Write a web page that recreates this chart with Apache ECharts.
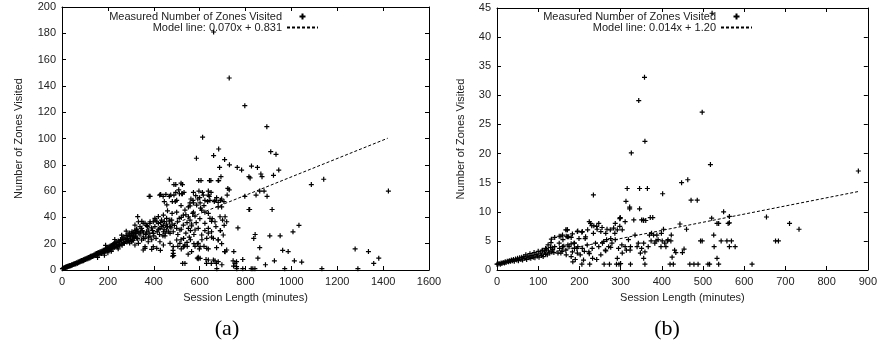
<!DOCTYPE html>
<html>
<head>
<meta charset="utf-8">
<script src="https://cdn.jsdelivr.net/npm/echarts@6/dist/echarts.min.js"></script>
<style>
  html, body { margin: 0; padding: 0; background: #fff; }
  #main { width: 880px; height: 345px; }
</style>
</head>
<body>
<div id="main"></div>
<script>
// (a) session length (minutes) vs zones visited
const pointsA = [
  [2,1],[4,1.1],[5,1.3],[7,1.4],[8,1.2],[10,1.5],[12,1.8],[14,1.7],[15,2],[17,2.1],[19,2.2],[21,2.4],[23,2.3],[25,2.8],[27,2.6],
  [30,3],[32,3.2],[34,3],[36,3.5],[38,3.3],[41,3.7],[43,4],[45,3.8],[48,4.2],[50,4.5],[52,4.1],[55,4.8],[58,4.9],[60,4.6],
  [62,5.3],[65,5.5],[68,5.1],[70,6],[73,5.7],[75,6.4],[78,6],[80,6.8],[83,6.4],[85,7.2],[88,6.8],[90,7.5],[93,7.1],[95,8],
  [98,7.6],[100,8.3],[103,7.9],[105,8.8],[108,8.3],[110,9.1],[113,8.6],[115,9.5],[118,9],[120,9.9],[123,9.4],[125,10.4],
  [128,9.8],[130,10.7],[133,10.2],[135,11.1],[138,10.6],[140,11.6],[143,11],[145,12.1],[148,11.4],[150,12.5],[152,11.3],
  [155,12.9],[158,12.1],[160,13.3],[162,12],[165,13.6],[168,12.8],[170,14.1],[172,12.6],[175,14.4],[178,13.4],[180,15.1],
  [182,13.6],[185,15.3],[188,14.2],[190,16.1],[192,14.3],[195,16.4],[198,14.8],[200,17.1],[202,15],[205,17.6],[208,15.6],
  [210,18.2],[212,16.2],[215,18.7],[218,16.8],[220,19.2],[222,16],[225,19.7],[228,17.3],[230,20.3],[232,17.8],[235,21.2],
  [238,18.3],[240,20.6],[242,17.6],[245,22.1],[248,19.3],[250,21.2],[252,18.6],[255,23.1],[258,19.8],[260,22.2],[262,18.9],
  [265,24.2],[268,20.8],[270,25.1],[272,20.3],[275,23.2],[278,21.8],[280,26.2],[283,21.3],[285,24.1],[288,27.2],[290,22.6],
  [293,25.6],[295,28.1],[298,23.4],[300,26.2],[303,21.8],[305,29.1],[308,24.3],[310,27.2],[313,28.6],[315,24.8],[318,30.2],
  [320,25.8],[323,27.6],[325,31.1],[328,29.2],[330,23.8],[335,28.3],
  [155,9.6],[185,11.2],[200,13.1],[215,14.2],[245,16.1],[190,18.8],[230,23.2],[260,26.5],[280,29.5],[295,20.5],[310,22.5],
  [311,25.3],[326,24.1],[304,21.5],[318,19],[333,20.3],[347,22.8],[340,26.6],[369,29.1],[362,24.1],[384,25.3],[376,21.5],
  [413,36.7],[434,38],[456,39.3],[478,38],[405,39.3],[384,36.7],[442,41.8],[333,36.7],[318,34.2],[347,31.7],[326,30.4],
  [304,27.9],[369,34],[354,35.5],[340,33],[376,30.4],[398,27.9],[427,31.7],[442,29.1],[456,30.4],[471,27.9],[449,25.9],
  [485,29.1],[500,31.7],[514,30.4],[529,34.2],[551,31.7],[565,33.5],[580,30.4],[594,31.7],[623,35.5],[645,39.3],[667,36.7],
  [689,40.5],[711,40.5],[718,36.7],[638,31.7],[652,29.1],[609,26.6],[631,24.1],[660,24.1],[681,22.8],[703,26.6],[594,20.3],
  [602,17.7],[631,16.5],[500,22.8],[514,20.3],[529,17.7],[536,19],[485,17.7],[471,20.3],[442,19],[427,21.5],[413,16.5],
  [398,17.7],[362,17.7],[354,15.2],[485,12.7],[482,10.6],[536,5],[594,9.7],[602,8.9],[638,7.6],[660,7.6],[681,6.3],
  [711,13.9],[718,15.2],[761,2.5],[761,6.3],[468,36.7],[471,33],[442,34],[420,35.5],[398,36.7],[536,45.6],[529,41.8],
  [551,40.5],[511,39.3],[503,36.7],[558,48.7],[587,49.4],[609,45.6],[573,44],[573,51],[592,54],[602,51],[619,49],[573,59],
  [583,56.5],[612,59],[638,57],[650,59],[645,53],[667,53],[681,51.5],[696,54],[729,61],[446,52],[500,53],[481,52],
  [430,57.5],[453,57.5],[474,57],[496,59],[525,58],[532,59],[384,56],[468,69],[488,65],[519,66],[496,65],[525,65],
  [606,68],[649,68],[681,68],[693,71],[687,78],[586,85],[661,87],[709,84],[730,80],[729,146],[797,125],[893,109],[613,101],
  [683,92],[910,90],[933,88],[826,79],[852,78],[764,78],[783,76],[945,76],[815,71],[820,70],[867,73],[872,71],[922,72],
  [1087,65],[1141,69],[1423,60],[862,60],[894,56],[846,57],[881,60],[797,56],[815,46],[818,46],[916,46],[767,32],[842,27],
  [836,24],[862,17],[906,26],[951,26],[1007,29],[1033,34],[962,15],[986,14],[1013,7],[926,7],[1045,6],[1278,16],[1336,14],
  [1381,9],[1359,5],[1133,1],[1290,1],[971,1],[854,9],[887,4],[746,7],[754,5],[748,3],[762,1],[788,8],[788,1],[825,1],
  [832,1],[841,1],[709,14],[749,14],[590,9],[594,8.5],[628,8],[630,5],[651,5],[673,5],[697,4],[667,7],[526,5],[675,1],
  [330,40.6],[348,37],[362,35.5],[383,35.5],[406,38],[420,40.6],[355,28],[377,25],[391,23],[362,16.5],[391,15.7],[446,36.8],
  [457,49.5],[570,43],[580,41],[601,39],[558,38],[565,35],[652,37],[671,33],[690,30],[623,30],[638,28],[652,25],[691,30],
  [707,34],[700,38],[655,39],[610,23],[590,20],[619,18],[638,16],[580,18],[599,16],[681,23],[696,20],[674,17],[519,23],
  [533,18],[546,18],[484,15],[487,11],[429,15],[604,47],[623,44],[638,43],[664,52],[681,48],[696,48],[720,57],[723,62],
  [674,55],[691,53],[706,52],[600,55],[623,53],[635,52],[642,56],[596,68],[597,60],[616,57],[638,60],[643,68],[683,68],
  [509,61],[512,58],[522,58],[494,52],[519,49],[551,48],[558,51],[562,54],[571,53],[380,56],[426,57],[441,56],[468,56],
  [488,57],[395,30],[405,33],[415,29],[425,27],[435,33],[445,31],[455,35],[465,29],[475,32],[410,24],[420,31],[440,26],
  [460,33],[470,38],[480,35],[390,32],[400,26],[430,36],[450,28],[490,34],[505,27],[520,31],[540,28],[555,25],[545,36],
  [560,30],[575,27],[585,36],[520,40],[540,42],[500,44],[480,43],[460,45],[350,30],[365,27],[372,33],[342,29],[355,24],
  [380,28],[505,18],[520,16],[545,21],[560,23],[575,20],[565,14],[550,12],[530,24],[661,181]
];
const modelA = [[0, 0.831], [1420, 100.2]];

// (b) session length (minutes) vs zones visited
const pointsB = [
  [0,1],[2,1],[5,1.1],[8,1],[10,1.2],[12,1.1],[15,1.3],[18,1.2],[20,1.4],[22,1.3],[25,1.5],[28,1.4],[30,1.6],[33,1.5],
  [35,1.7],[38,1.6],[40,1.8],[42,1.5],[45,1.9],[48,1.7],[50,2],[52,1.6],[55,2.1],[58,1.8],[60,2.2],[62,1.7],[65,2.3],
  [68,2],[70,2.6],[72,1.8],[75,2.4],[78,2.1],[80,2.8],[82,2],[85,2.5],[88,2.2],[90,3],[92,2.1],[95,2.7],[98,2.4],[100,3.2],
  [102,2.2],[105,2.9],[108,2.5],[110,3.4],[112,2.3],[115,3.1],[118,2.7],[120,3.6],[122,2.6],[125,3.3],[128,2.9],[130,3.9],
  [133,3.1],[135,3.5],
  [522,44.1],[358,33.1],[344,29.1],[498,27.1],[359,22.1],[326,20.1],[518,18.1],[877,17],[448,15],[463,15.5],[316,14],
  [346,14],[365,14],[234,12.9],[402,13.1],[313,11.8],[322,10.8],[322,10.5],[346,10.5],[471,12],[486,12],[550,10],[521,8.9],
  [564,9.2],[654,9.1],[710,8],[733,7],[676,5],[683,5],[299,9],[298,8.8],[332,8.6],[351,8.6],[356,8.5],[372,9],[378,9],
  [444,7.9],[460,7],[404,7],[526,6],[538,8],[534,8],[564,8.1],[561,8],[494,5],[498,5],[544,5],[558,5],[569,5],[564,4],
  [578,4],[527,4],[534,2],[538,1],[512,1],[516,1],[619,1],[468,1],[478,1],[488,1],[420,1],[428,1],[359,1],[324,1],[296,1],
  [290,1],[273,1],[260,1],[225,1],[206,1],[450,3],[454,3.6],[425,2.2],[434,3],[410,4],[414,5],[422,5],[398,4],[401,5],
  [386,5],[374,5],[388,6],[380,6],[370,6],[356,4.6],[340,4],[348,2.9],[356,2],[324,4],[314,3.4],[304,2.9],[292,2],[300,1.1],
  [286,6.3],[292,6.9],[298,7.5],[304,6.9],[276,5.4],[266,5.2],[256,4.6],[276,3.9],[264,3.3],[252,2.6],[242,1.8],[232,2],
  [224,2.8],[212,3.2],[202,2.6],[220,6.9],[234,6.3],[242,7.5],[252,6.6],[264,6.3],[224,8.3],[230,7.6],[196,6.7],[206,6.5],
  [214,5.4],[170,6.9],[168,5.8],[160,5.2],[180,5.6],[188,4.6],[196,4],[151,5.8],[140,5.6],[132,5.3],[140,4],[152,3.7],
  [162,4.1],[172,4.3],[180,4.5],[188,3.7],[194,3.7],[124,4.3],[118,3.7],[110,3.3],[138,3],[148,2.9],[158,3.2],[168,2.6],
  [180,2.3],[190,1.8],[184,1.4],[210,1.7],[134,3.8],[131,4.7],[155,5.8],[171,6.9],[174,5.7],
  [299,8.9],[311,8.3],[355,8.6],[361,8.5],[227,8],[235,7.6],[243,7],[247,8],[255,7.3],[267,7],[275,6.9],[283,7.2],[287,8],
  [167,6.9],[159,6],[171,5.7],[183,6.2],[195,6.6],[207,6.6],[215,5.7],[199,5.4],[151,4.6],[159,4],[167,3.4],[155,2.9],
  [175,4],[187,4.6],[183,3.1],[195,2.9],[207,3.7],[219,4.3],[223,3.1],[231,3.7],[239,4.6],[247,4],[259,4.9],[263,3.4],
  [271,4],[279,4.6],[287,5.2],[295,3.7],[303,4.3],[311,4],[319,5.2],[323,3.4],[335,6],[343,4.6],[351,3.7],[359,3.1],
  [367,4],[375,6.3],[383,4.6],[391,5.2],[399,6.3],[407,4.6],[415,5.2],[423,6],[431,3.4]
];
const modelB = [[0, 1.2], [880, 13.52]];

const xTicksA = [0, 200, 400, 600, 800, 1000, 1200, 1400, 1600];
const yTicksA = [0, 20, 40, 60, 80, 100, 120, 140, 160, 180, 200];
const xTicksB = [0, 100, 200, 300, 400, 500, 600, 700, 800, 900];
const yTicksB = [0, 5, 10, 15, 20, 25, 30, 35, 40, 45];

const measuredName = 'Measured Number of Zones Visited';
const modelNameA = 'Model line: 0.070x + 0.831';
const modelNameB = 'Model line: 0.014x + 1.20';
const xTitle = 'Session Length (minutes)';
const yTitle = 'Number of Zones Visited';
const captions = ['(a)', '(b)'];

const font = '"Liberation Sans", Arial, Helvetica, sans-serif';
const ink = '#222';
const plus = 'path://M0,5L10,5M5,0L5,10';
const clear = 'rgba(0,0,0,0)';

function axis(gridIndex, ticks, position, labels, extra) {
  return Object.assign({
    type: 'value',
    gridIndex: gridIndex,
    position: position,
    min: ticks[0],
    max: ticks[ticks.length - 1],
    interval: ticks[1] - ticks[0],
    splitLine: { show: false },
    axisLine: { show: true, onZero: false, lineStyle: { color: '#000', width: 1 } },
    axisTick: { show: true, inside: true, length: 4, lineStyle: { color: '#000' } },
    axisLabel: {
      show: labels, color: ink, fontFamily: font, fontSize: 11, margin: 6,
      formatter: function (v) { return String(v); }
    },
    nameTextStyle: { color: ink, fontFamily: font, fontSize: 11 }
  }, extra || {});
}

function legend(names, right) {
  return {
    data: [
      { name: names[0], icon: plus },
      { name: names[1], itemStyle: { color: clear, borderColor: clear, borderWidth: 0 } }
    ],
    orient: 'vertical',
    align: 'right',
    right: right,
    top: 11,
    padding: 0,
    itemGap: 0,
    itemWidth: 31,
    itemHeight: 6,
    selectedMode: false,
    textStyle: { color: ink, fontFamily: font, fontSize: 11, lineHeight: 11 }
  };
}

function scatter(name, data, xi, yi) {
  return {
    type: 'scatter', name: name, data: data,
    xAxisIndex: xi, yAxisIndex: yi,
    symbol: plus, symbolSize: 5, symbolKeepAspect: true,
    itemStyle: { color: '#000', borderColor: '#000', borderWidth: 1.2, opacity: 1 },
    silent: true
  };
}

function model(name, data, xi, yi) {
  return {
    type: 'line', name: name, data: data,
    xAxisIndex: xi, yAxisIndex: yi,
    symbol: 'none',
    lineStyle: { color: '#000', width: 1, type: [3, 2] },
    itemStyle: { color: '#000' },
    silent: true, z: 3
  };
}

const chart = echarts.init(document.getElementById('main'), null, { renderer: 'canvas' });
chart.setOption({
  animation: false,
  backgroundColor: '#fff',
  grid: [
    { left: 62, top: 7, width: 367, height: 263 },
    { left: 497, top: 8, width: 375, height: 262 }
  ],
  xAxis: [
    axis(0, xTicksA, 'bottom', true, { name: xTitle, nameLocation: 'middle', nameGap: 22 }),
    axis(0, xTicksA, 'top', false),
    axis(1, xTicksB, 'bottom', true, { name: xTitle, nameLocation: 'middle', nameGap: 22 }),
    axis(1, xTicksB, 'top', false)
  ],
  yAxis: [
    axis(0, yTicksA, 'left', true, { name: yTitle, nameLocation: 'middle', nameGap: 38 }),
    axis(0, yTicksA, 'right', false),
    axis(1, yTicksB, 'left', true, { name: yTitle, nameLocation: 'middle', nameGap: 31 }),
    axis(1, yTicksB, 'right', false)
  ],
  legend: [
    legend([measuredName, modelNameA], 561),
    legend([measuredName, modelNameB], 127)
  ],
  series: [
    scatter(measuredName, pointsA, 0, 0),
    model(modelNameA, modelA, 0, 0),
    scatter(measuredName, pointsB, 2, 2),
    model(modelNameB, modelB, 2, 2)
  ],
  graphic: captions.map(function (t, i) {
    return {
      type: 'text',
      x: [227, 667][i],
      y: 329,
      style: {
        text: t, fill: '#000', align: 'center', verticalAlign: 'middle',
        font: '22px "Liberation Serif", "Times New Roman", serif'
      }
    };
  })
});
</script>
</body>
</html>
